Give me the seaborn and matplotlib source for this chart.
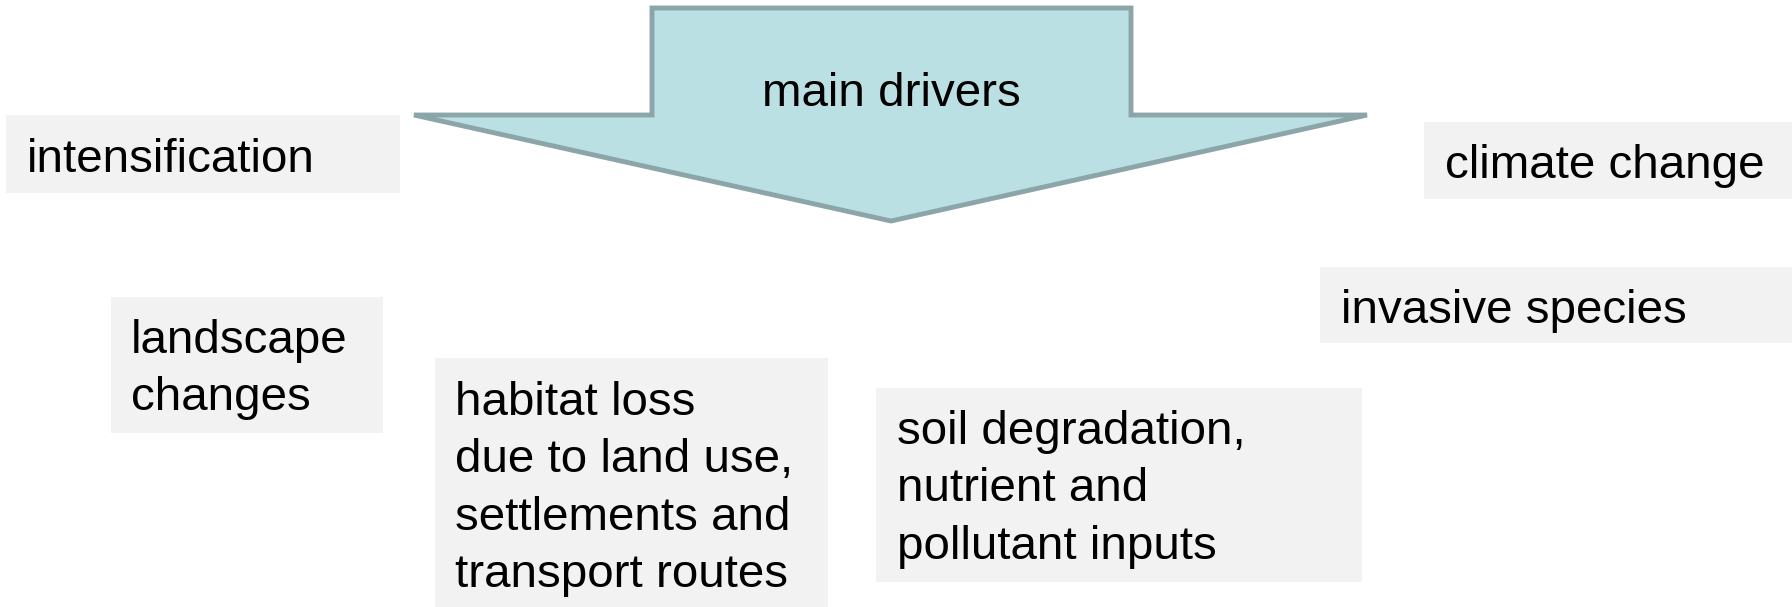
import matplotlib
matplotlib.use("Agg")
import matplotlib.pyplot as plt
import seaborn as sns
from matplotlib.patches import Rectangle, Polygon

sns.set_style("white")
plt.rcParams['font.family'] = ['Liberation Sans', 'DejaVu Sans']

# driver boxes: label lines, box (x0, y0, x1, y1) in pixel units, text left x, first baseline
labels = [
    ["intensification"],
    ["climate change"],
    ["invasive species"],
    ["landscape", "changes"],
    ["habitat loss", "due to land use,", "settlements and", "transport routes"],
    ["soil degradation,", "nutrient and", "pollutant inputs"],
]
boxes = [
    (6, 115, 400, 193),
    (1424, 122, 1792, 199),
    (1320, 267, 1792, 343),
    (111, 297, 383, 433),
    (435, 358, 828, 607),
    (876, 388, 1362, 582),
]
text_x = [27, 1445, 1341, 131, 455, 897]
first_base = [172, 178, 323, 353, 415, 444]
line_step = 57.3

# big arrow outline
arrow_x = [652, 1131, 1131, 1367, 891, 414, 652]
arrow_y = [8, 8, 115, 115, 221, 115, 115]
arrow_label = "main drivers"

box_color = "#F2F2F2"
arrow_fill = "#BBE0E3"
arrow_edge = "#8CA5A8"
fs = 34.2

fig = plt.figure(figsize=(17.92, 6.07), dpi=100)
ax = fig.add_axes([0, 0, 1, 1])
ax.set_xlim(0, 1792)
ax.set_ylim(607, 0)
ax.axis("off")

for (x0, y0, x1, y1), lines, tx, yb in zip(boxes, labels, text_x, first_base):
    ax.add_patch(Rectangle((x0, y0), x1 - x0, y1 - y0, facecolor=box_color, edgecolor="none"))
    for i, line in enumerate(lines):
        ax.text(tx, yb + i * line_step, line, fontsize=fs, ha="left", va="baseline", color="black")

ax.add_patch(Polygon(list(zip(arrow_x, arrow_y)), closed=True, facecolor=arrow_fill,
                     edgecolor=arrow_edge, linewidth=3.5, joinstyle="miter"))
ax.text(891, 106, arrow_label, fontsize=fs, ha="center", va="baseline", color="black")

fig.savefig("out.png", dpi=100)
